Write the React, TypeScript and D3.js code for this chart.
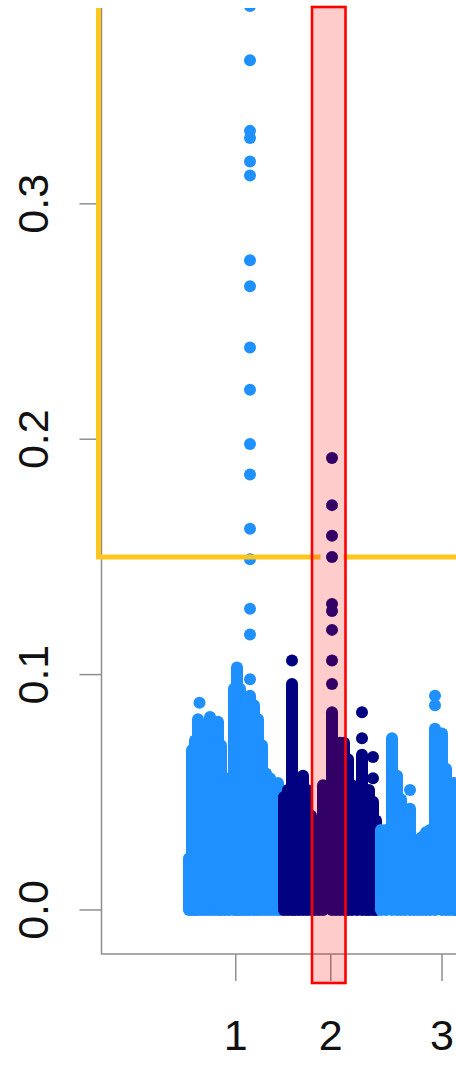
import React, { useEffect, useRef } from "react";
import * as d3 from "d3";

// chromosomes laid end to end (units: Mb-ish)
const chromNames = ["1", "2", "3"];
const chromLengths = [191, 189, 256];
const chromColors = ["#1E90FF", "#000080", "#1E90FF"];

// dense SNP clouds: [position in chromosome, top value of the run]
const chr1Runs = [
  [2, 0.022], [8, 0.068], [14, 0.072], [20, 0.081], [28, 0.077], [36, 0.07],
  [44, 0.082], [52, 0.072], [60, 0.08], [66, 0.07], [74, 0.056], [82, 0.056],
  [92, 0.094], [98, 0.103], [104, 0.094], [111, 0.04], [118, 0.089], [124, 0.091],
  [132, 0.087], [140, 0.081], [148, 0.07], [156, 0.058], [164, 0.056], [172, 0.053],
  [180, 0.054], [186, 0.051],
];
const chr2Runs = [
  [1, 0.048], [9, 0.051], [17, 0.096], [23, 0.053], [31, 0.055], [39, 0.057],
  [47, 0.051], [55, 0.04], [63, 0.038], [71, 0.038], [79, 0.053], [97, 0.084],
  [105, 0.064], [113, 0.071], [121, 0.071], [129, 0.064], [137, 0.053], [147, 0.051],
  [157, 0.066], [165, 0.049], [171, 0.051], [179, 0.046], [185, 0.038],
];
const chr3Runs = [
  [6, 0.034], [16, 0.034], [28, 0.073], [38, 0.057], [46, 0.047], [54, 0.038],
  [64, 0.043], [72, 0.03], [80, 0.015], [88, 0.031], [96, 0.033], [104, 0.034],
  [114, 0.077], [128, 0.075], [136, 0.06], [144, 0.054], [152, 0.054], [160, 0.051],
];

// single SNPs standing above the clouds: [position in chromosome, value]
const chr1Peaks = [
  [23, 0.088], [124, 0.384], [124, 0.361], [124, 0.331], [124, 0.328], [124, 0.318],
  [124, 0.312], [124, 0.276], [124, 0.265], [124, 0.239], [124, 0.221], [124, 0.198],
  [124, 0.185], [124, 0.162], [124, 0.149], [124, 0.128], [124, 0.117], [124, 0.098],
];
const chr2Peaks = [
  [17, 0.106], [97, 0.192], [97, 0.172], [97, 0.159], [97, 0.15], [97, 0.13],
  [97, 0.127], [97, 0.119], [97, 0.106], [97, 0.096], [157, 0.084], [157, 0.073],
  [179, 0.065], [179, 0.056],
];
const chr3Peaks = [[64, 0.051], [114, 0.091], [114, 0.087]];

const yTicks = [0, 0.1, 0.2, 0.3];
const threshold = 0.15;
// highlighted window on chromosome 2
const highlightChrom = 1;
const highlightRange = [57, 124];

function drawManhattan(container) {
  const width = 456;
  const height = 1065;
  const plot = { left: 101.5, top: 8, bottom: 954, right: 456 };
  const r = 6;

  d3.select(container).select("svg").remove();
  const svg = d3
    .select(container)
    .append("svg")
    .attr("width", width)
    .attr("height", height)
    .style("position", "absolute")
    .style("left", "0px")
    .style("top", "0px")
    .style("background", "#fff");

  const offsets = [0, ...d3.cumsum(chromLengths)].slice(0, chromLengths.length);

  const x = d3.scaleLinear().domain([-173, 537]).range([plot.left, 456.5]);
  const y = d3.scaleLinear().domain([-0.0187, 0.3832]).range([plot.bottom, plot.top]);

  svg
    .append("defs")
    .append("clipPath")
    .attr("id", "plot-clip")
    .append("rect")
    .attr("x", plot.left)
    .attr("y", plot.top)
    .attr("width", plot.right - plot.left + 10)
    .attr("height", plot.bottom - plot.top);

  // axes (L shaped box, R style)
  const axisColor = "#8f8f8f";
  svg
    .append("path")
    .attr("d", `M${plot.left},${plot.top}V${plot.bottom}H${plot.right + 1}`)
    .attr("fill", "none")
    .attr("stroke", axisColor)
    .attr("stroke-width", 1.5);

  svg
    .append("g")
    .selectAll("line")
    .data(yTicks)
    .join("line")
    .attr("x1", plot.left - 22)
    .attr("x2", plot.left)
    .attr("y1", (d) => y(d))
    .attr("y2", (d) => y(d))
    .attr("stroke", axisColor)
    .attr("stroke-width", 1.5);

  const tickPos = chromLengths.map((len, i) => offsets[i] + len / 2);
  svg
    .append("g")
    .selectAll("line")
    .data(tickPos)
    .join("line")
    .attr("x1", (d) => x(d))
    .attr("x2", (d) => x(d))
    .attr("y1", plot.bottom)
    .attr("y2", plot.bottom + 27)
    .attr("stroke", axisColor)
    .attr("stroke-width", 1.5);

  // points
  const pts = svg.append("g").attr("clip-path", "url(#plot-clip)");
  const allRuns = [chr1Runs, chr2Runs, chr3Runs];
  const allPeaks = [chr1Peaks, chr2Peaks, chr3Peaks];
  chromNames.forEach((name, i) => {
    const g = pts.append("g").attr("class", `chr-${name}`);
    g.selectAll("line")
      .data(allRuns[i])
      .join("line")
      .attr("x1", (d) => x(offsets[i] + d[0]))
      .attr("x2", (d) => x(offsets[i] + d[0]))
      .attr("y1", y(0))
      .attr("y2", (d) => y(d[1]))
      .attr("stroke", chromColors[i])
      .attr("stroke-width", r * 2)
      .attr("stroke-linecap", "round");
    g.selectAll("circle")
      .data(allPeaks[i])
      .join("circle")
      .attr("cx", (d) => x(offsets[i] + d[0]))
      .attr("cy", (d) => y(d[1]))
      .attr("r", r)
      .attr("fill", chromColors[i]);
  });

  // threshold guide (left edge + horizontal line, broken around the top hit)
  const hitX = x(offsets[1] + 97);
  const yellow = "#FFC61E";
  svg
    .append("path")
    .attr("d", `M${plot.left - 3},${plot.top}V${y(threshold)}H${hitX - 11.5}`)
    .attr("fill", "none")
    .attr("stroke", yellow)
    .attr("stroke-width", 5);
  svg
    .append("line")
    .attr("x1", hitX + 11.5)
    .attr("x2", plot.right + 2)
    .attr("y1", y(threshold))
    .attr("y2", y(threshold))
    .attr("stroke", yellow)
    .attr("stroke-width", 5);

  // highlighted window
  const hx0 = x(offsets[highlightChrom] + highlightRange[0]);
  const hx1 = x(offsets[highlightChrom] + highlightRange[1]);
  svg
    .append("rect")
    .attr("x", hx0)
    .attr("y", plot.top - 1)
    .attr("width", hx1 - hx0)
    .attr("height", plot.bottom + 29 - plot.top + 1)
    .attr("fill", "rgba(255,0,0,0.2)")
    .attr("stroke", "#FF0000")
    .attr("stroke-width", 2.6);

  // labels
  const font = "'Liberation Sans', Arial, Helvetica, sans-serif";
  svg
    .append("g")
    .selectAll("text")
    .data(yTicks)
    .join("text")
    .attr("transform", (d) => `translate(48,${y(d)}) rotate(-90)`)
    .attr("text-anchor", "middle")
    .style("font-family", font)
    .style("font-size", "43px")
    .style("fill", "#111")
    .text((d) => d3.format(".1f")(d));

  svg
    .append("g")
    .selectAll("text")
    .data(tickPos)
    .join("text")
    .attr("x", (d) => x(d))
    .attr("y", 1050)
    .attr("text-anchor", "middle")
    .style("font-family", font)
    .style("font-size", "43px")
    .style("fill", "#111")
    .text((d, i) => chromNames[i]);
}

const App = () => {
  const ref = useRef(null);
  useEffect(() => {
    drawManhattan(ref.current);
  }, []);
  return <div ref={ref} style={{ width: 456, height: 1065 }} />;
};

export default App;
